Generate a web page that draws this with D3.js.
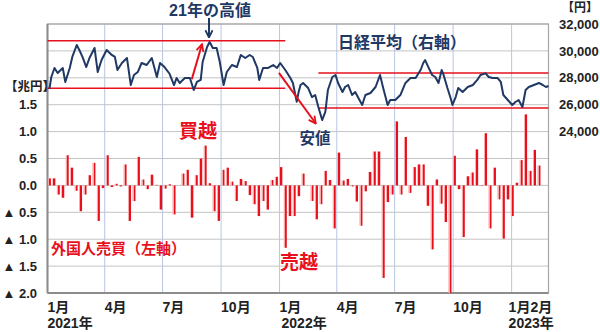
<!DOCTYPE html>
<html><head><meta charset="utf-8">
<script src="https://cdn.jsdelivr.net/npm/d3@7"></script>
<style>
body{margin:0;background:#fff;}
svg{display:block;font-family:"Liberation Sans","Noto Sans CJK JP",sans-serif;font-weight:700;}
</style></head><body>
<svg id="c" width="600" height="332"></svg>
<script>
// ---- data ----
const weekDates = ["2021-01-04","2021-01-11","2021-01-18","2021-01-25","2021-02-01","2021-02-08","2021-02-15","2021-02-22","2021-03-01","2021-03-08","2021-03-15","2021-03-22","2021-03-29","2021-04-05","2021-04-12","2021-04-19","2021-04-26","2021-05-03","2021-05-10","2021-05-17","2021-05-24","2021-05-31","2021-06-07","2021-06-14","2021-06-21","2021-06-28","2021-07-05","2021-07-12","2021-07-19","2021-07-26","2021-08-02","2021-08-09","2021-08-16","2021-08-23","2021-08-30","2021-09-06","2021-09-13","2021-09-20","2021-09-27","2021-10-04","2021-10-11","2021-10-18","2021-10-25","2021-11-01","2021-11-08","2021-11-15","2021-11-22","2021-11-29","2021-12-06","2021-12-13","2021-12-20","2021-12-27",
"2022-01-03","2022-01-10","2022-01-17","2022-01-24","2022-01-31","2022-02-07","2022-02-14","2022-02-21","2022-02-28","2022-03-07","2022-03-14","2022-03-21","2022-03-28","2022-04-04","2022-04-11","2022-04-18","2022-04-25","2022-05-02","2022-05-09","2022-05-16","2022-05-23","2022-05-30","2022-06-06","2022-06-13","2022-06-20","2022-06-27","2022-07-04","2022-07-11","2022-07-18","2022-07-25","2022-08-01","2022-08-08","2022-08-15","2022-08-22","2022-08-29","2022-09-05","2022-09-12","2022-09-19","2022-09-26","2022-10-03","2022-10-10","2022-10-17","2022-10-24","2022-10-31","2022-11-07","2022-11-14","2022-11-21","2022-11-28","2022-12-05","2022-12-12","2022-12-19","2022-12-26",
"2023-01-02","2023-01-09","2023-01-16","2023-01-23","2023-01-30","2023-02-06","2023-02-13"];
const foreignNet = [0.13,0.13,-0.17,-0.23,0.56,0.33,-0.10,-0.48,-0.17,0.19,0.42,-0.66,-0.05,0.56,-0.03,0.03,-0.02,0.39,-0.66,-0.29,0.53,0.11,-0.07,0.20,0.01,-0.45,-0.06,0.02,
-0.54,0.00,0.22,0.29,-0.60,0.19,0.50,0.74,0.04,-0.48,-0.66,0.29,0.33,0.07,-0.29,0.12,0.08,-0.18,-0.35,-0.57,-0.29,-0.45,0.10,0.16,0.34,-1.16,-0.57,-0.57,
-0.20,0.22,0.00,-0.29,-0.63,-0.35,0.27,0.10,-0.80,0.61,0.09,0.12,-0.02,-0.30,-0.75,-0.11,0.25,0.63,0.63,-1.72,-0.31,-0.17,1.19,-0.17,0.90,-0.14,0.34,0.39,0.39,
-0.38,-1.19,0.11,-0.34,-0.68,-2.0,0.55,-0.07,-0.96,0.17,0.24,0.67,-0.01,0.97,-0.80,0.33,-0.26,-0.99,-0.26,-0.57,0.05,0.47,1.32,0.27,0.66,0.37];

const nikkeiDates = ["2021-01-04","2021-01-07","2021-01-12","2021-01-17","2021-01-25","2021-01-29","2021-02-05","2021-02-09","2021-02-16","2021-02-20","2021-02-25","2021-03-03","2021-03-08","2021-03-16","2021-03-21","2021-03-27","2021-04-04","2021-04-12","2021-04-17","2021-04-21","2021-04-28","2021-05-06","2021-05-12","2021-05-17","2021-05-23","2021-05-29","2021-06-06","2021-06-14","2021-06-22","2021-06-27","2021-07-04","2021-07-12","2021-07-19","2021-07-23","2021-07-28","2021-08-05","2021-08-13","2021-08-19","2021-08-24","2021-08-30","2021-09-02","2021-09-09","2021-09-13","2021-09-18","2021-09-24","2021-09-29","2021-10-05","2021-10-10","2021-10-18","2021-10-26","2021-11-01","2021-11-08","2021-11-15","2021-11-20","2021-11-27","2021-11-30","2021-12-06","2021-12-14","2021-12-22","2021-12-28",
"2022-01-02","2022-01-10","2022-01-18","2022-01-22","2022-01-28","2022-01-31","2022-02-03","2022-02-07","2022-02-15","2022-02-21","2022-02-26","2022-03-03","2022-03-09","2022-03-14","2022-03-18","2022-03-25","2022-03-30","2022-04-03","2022-04-10","2022-04-14","2022-04-19","2022-04-25","2022-04-30","2022-05-05","2022-05-11","2022-05-16","2022-05-24","2022-06-01","2022-06-08","2022-06-13","2022-06-20","2022-06-24","2022-07-02","2022-07-10","2022-07-18","2022-07-26","2022-08-03","2022-08-11","2022-08-15","2022-08-18","2022-08-23","2022-08-29","2022-09-03","2022-09-08","2022-09-13","2022-09-16","2022-09-22","2022-09-27","2022-09-30","2022-10-05","2022-10-09","2022-10-16","2022-10-24","2022-11-01","2022-11-08","2022-11-13","2022-11-21","2022-11-26","2022-12-02","2022-12-10","2022-12-15","2022-12-19","2022-12-26",
"2023-01-02","2023-01-07","2023-01-12","2023-01-18","2023-01-23","2023-01-28","2023-02-05","2023-02-13","2023-02-19","2023-02-24","2023-02-28"];
const nikkeiValues = [27170,28060,28730,28360,28730,27690,28730,29550,30440,30070,29550,28800,29470,30220,28430,29320,30070,29700,29550,28580,29100,29470,27460,28210,28430,29100,28950,29470,28060,29100,28800,28300,27460,27985,27610,27985,27985,27090,27690,27840,29175,30290,30660,30220,30220,29175,27465,28430,28950,28800,29695,29470,29695,29545,28730,27840,28730,28730,28950,28730,
29100,28580,27985,27615,26220,26945,27465,27615,27240,26570,26720,25830,24860,25460,27090,28060,28210,27615,26945,27315,27465,26720,26945,26500,25980,26720,26870,27315,28210,27240,25980,26350,26350,26720,27615,27985,27985,28600,29100,29320,28800,28210,28060,27615,28580,28210,27240,26500,25980,26570,27240,26945,27315,27465,27840,28210,28330,28060,27985,27985,27690,26720,26350,
25980,26200,26350,25830,27090,27315,27465,27615,27465,27315,27390];

const leftTicks = [-2,-1.5,-1,-0.5,0,0.5,1,1.5];
const leftGrid = [-2,-1.5,-1,-0.5,0,0.5,1,1.5,2,2.5,3];
const rightTicks = [24000,26000,28000,30000,32000];
const monthTicks = ["2021-01-01","2021-04-01","2021-07-01","2021-10-01","2022-01-01","2022-04-01","2022-07-01","2022-10-01","2023-01-01"];
const monthLabels = ["1月","4月","7月","10月","1月","4月","7月","10月","1月2月"];
const yearTicks = ["2021-01-01","2022-01-01","2023-01-01"];
const yearLabels = ["2021年","2022年","2023年"];
// support / resistance lines (right-axis values)
const rangeLines = [
  {from:"2021-01-01", to:"2022-01-10", value:30760},
  {from:"2021-01-01", to:"2022-01-10", value:27220},
  {from:"2022-03-03", to:"2023-02-28", value:28360},
  {from:"2022-03-03", to:"2023-02-28", value:25755}
];

// ---- scales ----
const parse = d3.timeParse("%Y-%m-%d");
const M = {left:47.5, right:548.5, top:24, bottom:293};
const x = d3.scaleTime().domain([parse("2021-01-01"), parse("2023-02-28")]).range([M.left, M.right]);
const yL = d3.scaleLinear().domain([-2, 3]).range([M.bottom, M.top]);
const yR = d3.scaleLinear().domain([12000, 32000]).range([M.bottom, M.top]);

const svg = d3.select("#c");
const defs = svg.append("defs");
const grad = defs.append("linearGradient").attr("id","barGrad").attr("x1",0).attr("x2",1).attr("y1",0).attr("y2",0);
grad.append("stop").attr("offset","0%").attr("stop-color","#f8a6a6");
grad.append("stop").attr("offset","38%").attr("stop-color","#f8a6a6");
grad.append("stop").attr("offset","38%").attr("stop-color","#e8101c");
grad.append("stop").attr("offset","100%").attr("stop-color","#e8101c");

function marker(id, color){
  defs.append("marker").attr("id",id).attr("viewBox","0 0 10 10").attr("refX",9).attr("refY",5)
    .attr("markerWidth",9).attr("markerHeight",9).attr("markerUnits","userSpaceOnUse").attr("orient","auto")
    .append("path").attr("d","M1,1 L9,5 L1,9").attr("fill","none").attr("stroke",color).attr("stroke-width",2);
}
marker("arrRed","#e8101c");
marker("arrNavy","#1f3864");

// ---- grid ----
const grid = svg.append("g");
grid.selectAll("line.h").data(leftGrid).join("line")
  .attr("x1",M.left).attr("x2",M.right).attr("y1",d=>yL(d)).attr("y2",d=>yL(d))
  .attr("stroke","#c4c4c4").attr("stroke-width",1);
grid.selectAll("line.v").data(monthTicks.slice(1)).join("line")
  .attr("x1",d=>x(parse(d))).attr("x2",d=>x(parse(d))).attr("y1",M.top).attr("y2",M.bottom)
  .attr("stroke","#b8c6e2").attr("stroke-width",1);

// frame
svg.append("rect").attr("x",M.left).attr("y",M.top).attr("width",M.right-M.left).attr("height",M.bottom-M.top)
  .attr("fill","none").attr("stroke","#a6a6a6").attr("stroke-width",1.2);
svg.append("line").attr("x1",M.left).attr("x2",M.left).attr("y1",M.top).attr("y2",M.bottom).attr("stroke","#8c8c8c").attr("stroke-width",2);
svg.append("line").attr("x1",M.left).attr("x2",M.right).attr("y1",M.bottom).attr("y2",M.bottom).attr("stroke","#8c8c8c").attr("stroke-width",2);

// ---- bars ----
const bars = weekDates.map((d,i)=>({date:parse(d), v:foreignNet[i]}));
svg.append("g").selectAll("rect").data(bars).join("rect")
  .attr("x",d=>x(d.date)-1.5).attr("width",3)
  .attr("y",d=>Math.min(yL(d.v), yL(0)))
  .attr("height",d=>Math.abs(yL(d.v)-yL(0)))
  .attr("fill","url(#barGrad)");

// ---- range lines ----
svg.append("g").selectAll("line").data(rangeLines).join("line")
  .attr("x1",d=>x(parse(d.from))).attr("x2",d=>x(parse(d.to)))
  .attr("y1",d=>yR(d.value)).attr("y2",d=>yR(d.value))
  .attr("stroke","#e8101c").attr("stroke-width",1.4);

// ---- nikkei line ----
const nk = nikkeiDates.map((d,i)=>({date:parse(d), v:nikkeiValues[i]}));
svg.append("path").datum(nk)
  .attr("d", d3.line().x(d=>x(d.date)).y(d=>yR(d.v)))
  .attr("fill","none").attr("stroke","#1f3864").attr("stroke-width",2).attr("stroke-linejoin","round");

// ---- arrows ----
const arrows = [
  {from:["2021-08-16",27900], to:["2021-09-01",30500], color:"#e8101c", m:"arrRed", w:2},
  {from:["2021-12-31",28360], to:["2022-02-27",24600], color:"#e8101c", m:"arrRed", w:2},
  {from:["2021-09-12",32450], to:["2021-09-12",31000], color:"#1f3864", m:"arrNavy", w:2}
];
svg.append("g").selectAll("line").data(arrows).join("line")
  .attr("x1",d=>x(parse(d.from[0]))).attr("y1",d=>yR(d.from[1]))
  .attr("x2",d=>x(parse(d.to[0]))).attr("y2",d=>yR(d.to[1]))
  .attr("stroke",d=>d.color).attr("stroke-width",d=>d.w).attr("marker-end",d=>`url(#${d.m})`);

// ---- axes labels ----
const fmtL = v => v < 0 ? "▲ " + d3.format(".1f")(-v) : d3.format(".1f")(v);
svg.append("g").selectAll("text").data(leftTicks).join("text")
  .attr("x",37).attr("y",d=>yL(d)).attr("dy","0.36em").attr("text-anchor","end")
  .attr("font-size",13).attr("fill","#222").text(fmtL);
svg.append("text").attr("x",5).attr("y",86).attr("dy","0.36em").attr("font-size",12.5).attr("fill","#222").text("【兆円】");

svg.append("g").selectAll("text").data(rightTicks).join("text")
  .attr("x",559).attr("y",d=>yR(d)).attr("dy","0.36em").attr("text-anchor","start")
  .attr("font-size",13).attr("fill","#222").text(d=>d3.format(",")(d));
svg.append("text").attr("x",562).attr("y",8).attr("dy","0.36em").attr("font-size",12).attr("fill","#222").text("【円】");

svg.append("g").selectAll("text").data(monthTicks).join("text")
  .attr("x",(d,i)=>x(parse(d)) + (i===monthTicks.length-1 ? -3 : 0)).attr("y",307).attr("dy","0.36em")
  .attr("font-size",14).attr("fill","#222").text((d,i)=>monthLabels[i]);
svg.append("g").selectAll("text").data(yearTicks).join("text")
  .attr("x",(d,i)=>x(parse(d)) + [0,2,-3][i]).attr("y",323).attr("dy","0.36em")
  .attr("font-size",14).attr("fill","#222").text((d,i)=>yearLabels[i]);

// ---- annotations ----
const notes = [
  {t:"21年の高値", x:210, y:10, c:"#1f3864", s:16, a:"middle"},
  {t:"日経平均（右軸）", x:338, y:42, c:"#1f3864", s:16, a:"start"},
  {t:"安値", x:315, y:138, c:"#1f3864", s:15.5, a:"middle"},
  {t:"買越", x:198, y:131, c:"#e8101c", s:19, a:"middle"},
  {t:"外国人売買（左軸）", x:51, y:249, c:"#e8101c", s:15, a:"start"},
  {t:"売越", x:299, y:262, c:"#e8101c", s:19, a:"middle"}
];
svg.append("g").selectAll("text").data(notes).join("text")
  .attr("x",d=>d.x).attr("y",d=>d.y).attr("dy","0.36em").attr("text-anchor",d=>d.a)
  .attr("font-size",d=>d.s).attr("fill",d=>d.c).text(d=>d.t);
</script>
</body></html>
